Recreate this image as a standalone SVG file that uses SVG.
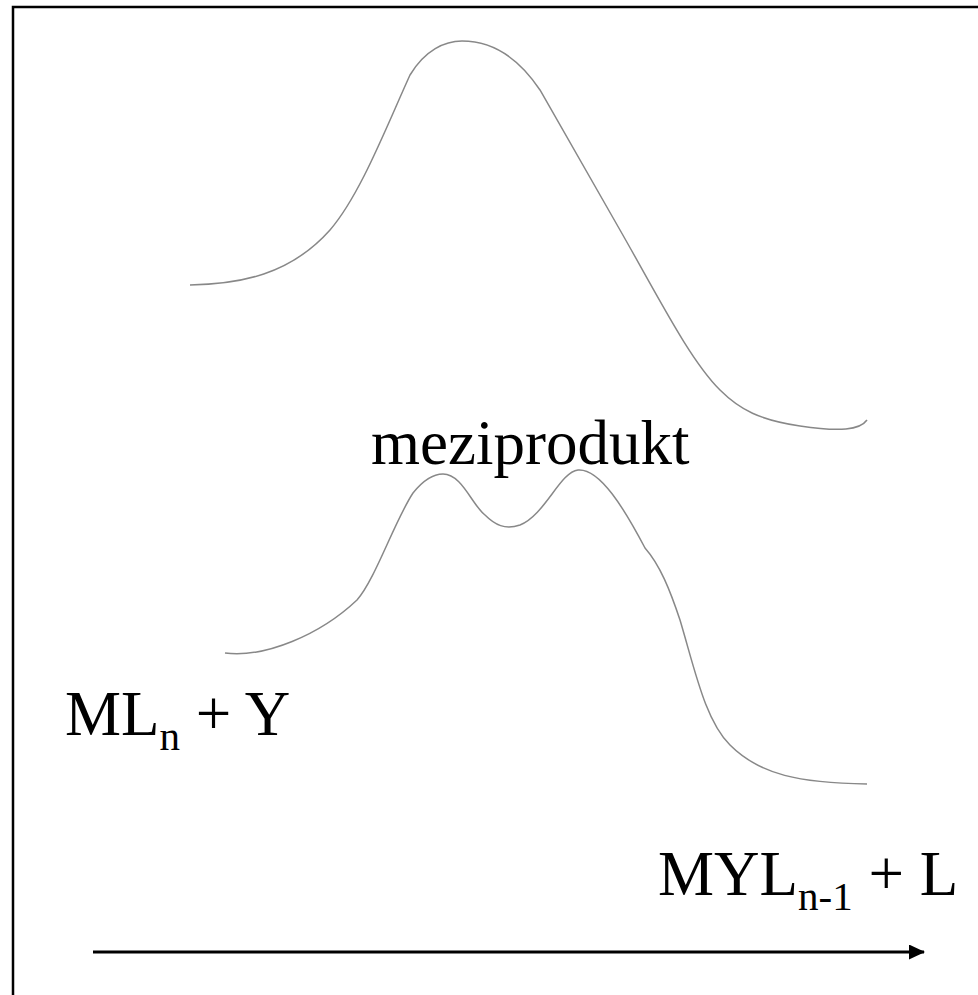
<svg xmlns="http://www.w3.org/2000/svg" width="978" height="995" viewBox="0 0 978 995">
<style>
.curve{fill:none;stroke:#888;stroke-width:1.5}
.lbl{font-family:"Liberation Serif","Times New Roman",serif;font-size:63px;fill:#000}
.sub{font-size:41px}
</style>
<defs>
<marker id="ah" markerWidth="16" markerHeight="15" refX="15" refY="7.5" orient="auto" markerUnits="userSpaceOnUse">
<path d="M0,0 L16,7.5 L0,15 Z" fill="#000"/>
</marker>
</defs>
<rect x="13" y="7" width="1100" height="1100" fill="#fff" stroke="#000" stroke-width="2.5"/>
<g id="curve-top">
<path class="curve" d="M190,285 C240,284 290,275 330,230 C360,195 385,130 410,75 C425,50 445,41 462,41 C495,41 520,60 540,90 L620,230 C660,300 690,360 720,390 C740,410 760,420 800,426 C840,432 860,430 867,420"/>
</g>
<g id="curve-bottom">
<path class="curve" d="M225,653 C265,658 320,635 357,600 C375,580 395,520 413,493 C425,478 435,474 443,474 C462,474 472,505 485,515 C495,525 505,530 520,525 C545,515 560,472 578,470 C600,468 625,510 645,548 C660,565 670,590 680,620 C695,670 705,720 730,745 C760,775 800,783 867,784"/>
</g>
<g id="label-meziprodukt">
<text class="lbl" x="371" y="464">meziprodukt</text>
</g>
<g id="label-reactants">
<text class="lbl" x="65" y="735">ML<tspan class="sub" dy="15">n</tspan><tspan dy="-15"> + Y</tspan></text>
</g>
<g id="label-products">
<text class="lbl" x="658" y="895">MYL<tspan class="sub" dy="15">n-1</tspan><tspan dy="-15"> + L</tspan></text>
</g>
<g id="connectors">
<line x1="93" y1="952" x2="924" y2="952" stroke="#000" stroke-width="3" marker-end="url(#ah)"/>
</g>
</svg>
